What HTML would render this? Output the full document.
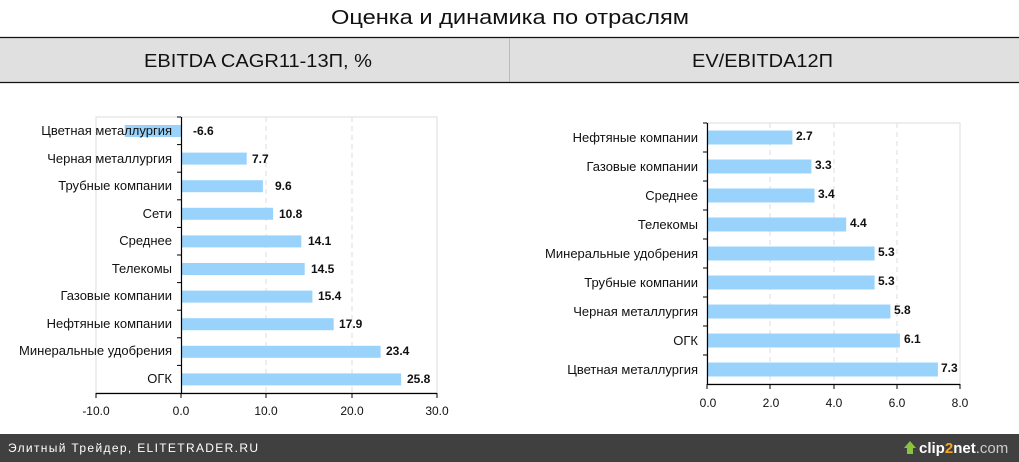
<!DOCTYPE html>
<html><head><meta charset="utf-8"><style>
body{margin:0;background:#fff;}
svg{display:block;font-family:"Liberation Sans",sans-serif;}
</style></head><body>
<svg width="1019" height="462" xmlns="http://www.w3.org/2000/svg">
<rect width="1019" height="462" fill="#fff"/>
<text x="331" y="24" font-size="20" textLength="358" lengthAdjust="spacingAndGlyphs" fill="#111">Оценка и динамика по отраслям</text>
<rect x="0" y="37" width="1019" height="46" fill="#e0e0e0"/>
<line x1="0" y1="37.5" x2="1019" y2="37.5" stroke="#111" stroke-width="1.3"/>
<line x1="0" y1="82.5" x2="1019" y2="82.5" stroke="#111" stroke-width="1.3"/>
<line x1="509.5" y1="38" x2="509.5" y2="82" stroke="#999" stroke-width="0.5"/>
<text x="144" y="67" font-size="18" textLength="228" lengthAdjust="spacingAndGlyphs" fill="#111">EBITDA CAGR11-13П, %</text>
<text x="692" y="67" font-size="18" textLength="141" lengthAdjust="spacingAndGlyphs" fill="#111">EV/EBITDA12П</text>

<!-- Left chart -->
<g>
<rect x="96" y="117" width="341" height="276" fill="none" stroke="#ddd" stroke-width="1"/>
<line x1="266" y1="117" x2="266" y2="393" stroke="#ddd" stroke-dasharray="5,4"/>
<line x1="352" y1="117" x2="352" y2="393" stroke="#ddd" stroke-dasharray="5,4"/>
<g fill="#99d3fb">
<rect x="124.7" y="125" width="56.3" height="12"/>
<rect x="181" y="152.6" width="65.7" height="12"/>
<rect x="181" y="180.2" width="81.9" height="12"/>
<rect x="181" y="207.8" width="92.1" height="12"/>
<rect x="181" y="235.4" width="120.3" height="12"/>
<rect x="181" y="263" width="123.7" height="12"/>
<rect x="181" y="290.6" width="131.4" height="12"/>
<rect x="181" y="318.2" width="152.7" height="12"/>
<rect x="181" y="345.8" width="199.6" height="12"/>
<rect x="181" y="373.4" width="220.1" height="12"/>
</g>
<line x1="181.5" y1="117" x2="181.5" y2="393" stroke="#000" stroke-width="1.2"/>
<line x1="96" y1="393.5" x2="437" y2="393.5" stroke="#000" stroke-width="1.2"/>
<g stroke="#000" stroke-width="1">
<line x1="177" y1="117" x2="181" y2="117"/><line x1="177" y1="144.6" x2="181" y2="144.6"/><line x1="177" y1="172.2" x2="181" y2="172.2"/><line x1="177" y1="199.8" x2="181" y2="199.8"/><line x1="177" y1="227.4" x2="181" y2="227.4"/><line x1="177" y1="255" x2="181" y2="255"/><line x1="177" y1="282.6" x2="181" y2="282.6"/><line x1="177" y1="310.2" x2="181" y2="310.2"/><line x1="177" y1="337.8" x2="181" y2="337.8"/><line x1="177" y1="365.4" x2="181" y2="365.4"/>
<line x1="96" y1="393" x2="96" y2="398"/><line x1="181" y1="393" x2="181" y2="398"/><line x1="266" y1="393" x2="266" y2="398"/><line x1="352" y1="393" x2="352" y2="398"/><line x1="437" y1="393" x2="437" y2="398"/>
</g>
<g font-size="13" text-anchor="end" fill="#111">
<text x="172" y="135">Цветная металлургия</text>
<text x="172" y="163">Черная металлургия</text>
<text x="172" y="190">Трубные компании</text>
<text x="172" y="218">Сети</text>
<text x="172" y="245">Среднее</text>
<text x="172" y="273">Телекомы</text>
<text x="172" y="300">Газовые компании</text>
<text x="172" y="328">Нефтяные компании</text>
<text x="172" y="355">Минеральные удобрения</text>
<text x="172" y="383">ОГК</text>
</g>
<g font-size="12" font-weight="bold" fill="#111">
<text x="193" y="135">-6.6</text>
<text x="252" y="163">7.7</text>
<text x="275" y="190">9.6</text>
<text x="279" y="218">10.8</text>
<text x="308" y="245">14.1</text>
<text x="311" y="273">14.5</text>
<text x="318" y="300">15.4</text>
<text x="339" y="328">17.9</text>
<text x="386" y="355">23.4</text>
<text x="407" y="383">25.8</text>
</g>
<g font-size="12" text-anchor="middle" fill="#111">
<text x="96" y="415">-10.0</text><text x="181" y="415">0.0</text><text x="266" y="415">10.0</text><text x="352" y="415">20.0</text><text x="437" y="415">30.0</text>
</g>
</g>

<!-- Right chart -->
<g>
<rect x="707" y="123" width="253" height="261" fill="none" stroke="#ddd" stroke-width="1"/>
<line x1="770" y1="123" x2="770" y2="384" stroke="#ddd" stroke-dasharray="5,4"/>
<line x1="834" y1="123" x2="834" y2="384" stroke="#ddd" stroke-dasharray="5,4"/>
<line x1="897" y1="123" x2="897" y2="384" stroke="#ddd" stroke-dasharray="5,4"/>
<g fill="#99d3fb">
<rect x="707" y="130.5" width="85.4" height="14"/>
<rect x="707" y="159.5" width="104.4" height="14"/>
<rect x="707" y="188.5" width="107.5" height="14"/>
<rect x="707" y="217.5" width="139.2" height="14"/>
<rect x="707" y="246.5" width="167.6" height="14"/>
<rect x="707" y="275.5" width="167.6" height="14"/>
<rect x="707" y="304.5" width="183.4" height="14"/>
<rect x="707" y="333.5" width="192.9" height="14"/>
<rect x="707" y="362.5" width="230.9" height="14"/>
</g>
<line x1="707.5" y1="123" x2="707.5" y2="384" stroke="#000" stroke-width="1.2"/>
<line x1="707" y1="384.5" x2="960" y2="384.5" stroke="#000" stroke-width="1.2"/>
<g stroke="#000" stroke-width="1">
<line x1="703" y1="123" x2="707" y2="123"/><line x1="703" y1="152" x2="707" y2="152"/><line x1="703" y1="181" x2="707" y2="181"/><line x1="703" y1="210" x2="707" y2="210"/><line x1="703" y1="239" x2="707" y2="239"/><line x1="703" y1="268" x2="707" y2="268"/><line x1="703" y1="297" x2="707" y2="297"/><line x1="703" y1="326" x2="707" y2="326"/><line x1="703" y1="355" x2="707" y2="355"/>
<line x1="707" y1="384" x2="707" y2="389"/><line x1="770" y1="384" x2="770" y2="389"/><line x1="834" y1="384" x2="834" y2="389"/><line x1="897" y1="384" x2="897" y2="389"/><line x1="960" y1="384" x2="960" y2="389"/>
</g>
<g font-size="13" text-anchor="end" fill="#111">
<text x="698" y="142">Нефтяные компании</text>
<text x="698" y="171">Газовые компании</text>
<text x="698" y="200">Среднее</text>
<text x="698" y="229">Телекомы</text>
<text x="698" y="258">Минеральные удобрения</text>
<text x="698" y="287">Трубные компании</text>
<text x="698" y="316">Черная металлургия</text>
<text x="698" y="345">ОГК</text>
<text x="698" y="374">Цветная металлургия</text>
</g>
<g font-size="12" font-weight="bold" fill="#111">
<text x="796" y="140">2.7</text>
<text x="815" y="169">3.3</text>
<text x="818" y="198">3.4</text>
<text x="850" y="227">4.4</text>
<text x="878" y="256">5.3</text>
<text x="878" y="285">5.3</text>
<text x="894" y="314">5.8</text>
<text x="904" y="343">6.1</text>
<text x="941" y="372">7.3</text>
</g>
<g font-size="12" text-anchor="middle" fill="#111">
<text x="708" y="407">0.0</text><text x="771" y="407">2.0</text><text x="834" y="407">4.0</text><text x="897" y="407">6.0</text><text x="960" y="407">8.0</text>
</g>
</g>

<!-- footer -->
<rect x="0" y="434" width="1019" height="28" fill="#404040"/>
<text x="8" y="452" font-size="12" fill="#fff" textLength="250" lengthAdjust="spacing">Элитный Трейдер, ELITETRADER.RU</text>
<polygon points="904,448 910,441 916,448 913,448 913,454 907,454 907,448" fill="#8ac43f"/>
<text x="919" y="453" font-size="15" font-weight="bold" fill="#fff">clip<tspan fill="#f5a623">2</tspan>net<tspan font-weight="normal" fill="#ccc">.com</tspan></text>
</svg>
</body></html>
